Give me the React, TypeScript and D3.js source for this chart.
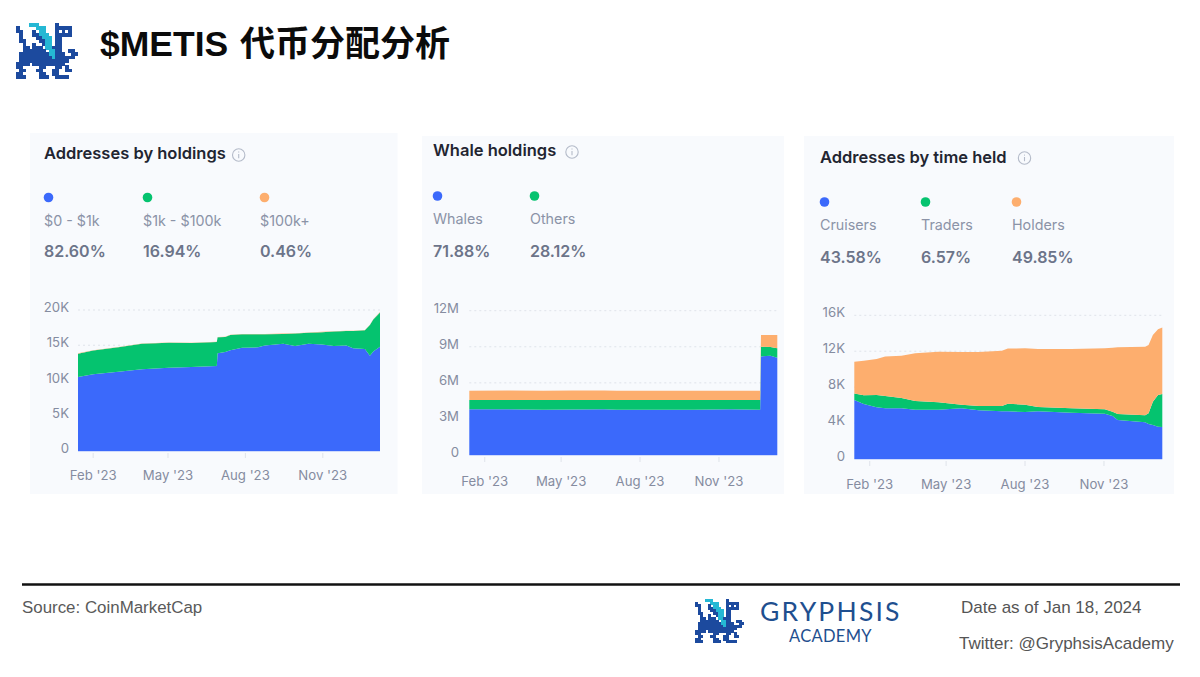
import * as d3 from 'd3';

const BLUE = '#3b69fb';
const GREEN = '#05c36f';
const ORANGE = '#fdae6e';

const DOMAIN = ['2023-01-14', '2024-01-08'];
const MONTH_TICKS = ['2023-02-01', '2023-05-01', '2023-08-01', '2023-11-01'];

// Addresses by holdings
const holdingDates = ['2023-01-14', '2023-02-01', '2023-03-03', '2023-03-31', '2023-05-02', '2023-05-29', '2023-06-28', '2023-06-29', '2023-07-08', '2023-07-14', '2023-07-28', '2023-08-16', '2023-08-24', '2023-09-15', '2023-09-29', '2023-10-15', '2023-10-31', '2023-11-14', '2023-11-29', '2023-12-07', '2023-12-21', '2023-12-27', '2023-12-31', '2024-01-08'];
const holdingLow = [10500, 10870, 11250, 11580, 11800, 11900, 12050, 13850, 14050, 14300, 14650, 14700, 14950, 15200, 14900, 15200, 15100, 14900, 14950, 14560, 14470, 13500, 14100, 14800];
const holdingMid = [3310, 3390, 3460, 3630, 3560, 3410, 3410, 2280, 2110, 2160, 1910, 1860, 1610, 1410, 1760, 1560, 1760, 2060, 2060, 2450, 2640, 4360, 4560, 4860];
const holdingHigh = [40, 40, 40, 40, 40, 40, 40, 40, 40, 40, 40, 40, 40, 40, 40, 40, 40, 40, 40, 40, 40, 40, 40, 40];

// Whale holdings
const whaleDates = ['2023-01-14', '2023-03-01', '2023-04-10', '2023-05-15', '2023-06-20', '2023-07-05', '2023-08-15', '2023-10-01', '2023-11-15', '2023-12-19', '2023-12-20', '2023-12-31', '2024-01-08'];
const whaleBlue = [3800000, 3800000, 3770000, 3790000, 3810000, 3760000, 3770000, 3770000, 3810000, 3770000, 8200000, 8260000, 8090000];
const whaleGreen = [770000, 780000, 800000, 790000, 770000, 810000, 800000, 800000, 760000, 800000, 800000, 730000, 780000];
const whaleOrange = [780000, 780000, 780000, 780000, 780000, 780000, 780000, 780000, 780000, 780000, 980000, 990000, 1110000];

// Addresses by time held
const heldDates = ['2023-01-14', '2023-01-25', '2023-02-09', '2023-02-19', '2023-03-10', '2023-03-26', '2023-04-22', '2023-05-19', '2023-06-08', '2023-07-05', '2023-07-12', '2023-08-01', '2023-08-16', '2023-09-24', '2023-11-02', '2023-11-11', '2023-11-17', '2023-12-19', '2023-12-23', '2023-12-28', '2024-01-03', '2024-01-08'];
const heldCruisers = [6570, 6120, 5750, 5640, 5640, 5490, 5490, 5640, 5420, 5310, 5310, 5230, 5310, 5160, 5050, 4790, 4340, 4080, 3900, 3790, 3600, 3560];
const heldTraders = [710, 970, 1380, 1380, 1150, 970, 820, 410, 480, 590, 850, 820, 480, 480, 480, 480, 670, 780, 1190, 2590, 3530, 3680];
const heldHolders = [3560, 3860, 4010, 4380, 4710, 5310, 5640, 5850, 6000, 6160, 6130, 6270, 6460, 6610, 6790, 7130, 7430, 7650, 7610, 7420, 7310, 7390];

const LOGO_ROWS = [
  '....ttt.....B......',
  'B.....ttt...BBBBB..',
  'BB...B.tt...B.B.B..',
  '.B...BBttt..BBBBB..',
  '.B....BBttt.BB.....',
  '.BB....BBtt.BB.....',
  '..B..B..Btt.BB.....',
  '..BB.BBB.ttBBB.....',
  '..BBBBBBB.ttBB..BB.',
  '.BBBBBBBBBttBBB..BB',
  '.BBBBBBBBBBtBBBBBB.',
  '.BBBBBBBBBBBBBBB...',
  'BBBB.BBBBBBBBBB....',
  'BB.....BB...BB.B...',
  '.BB...BB...BB..BB..',
  'BB.....BB..BB......',
  'BBB....BBB..BBBB...',
];

const UI_FONT = 'Inter, "Noto Sans", sans-serif';
const SLIDE_FONT = '"Liberation Sans", "Noto Sans CJK SC", sans-serif';
const parse = d3.utcParse('%Y-%m-%d');
const fmtMonth = d3.utcFormat("%b '%y");

type PanelProps = {
  box: [number, number, number, number];
  title: string;
  titlePos: [number, number];
  iconPos: [number, number];
  legendY: [number, number, number];
  legendX: number[];
  legend: { label: string; pct: string; color: string }[];
  dates: string[];
  series: number[][];
  colors: string[];
  yTicks: number[];
  yFmt: (v: number) => string;
  plot: { x0: number; x1: number; y0: number; yTop: number; labelRight: number; xLabelY: number };
};

const Panel = ({ box, title, titlePos, iconPos, legendY, legendX, legend, dates, series, colors, yTicks, yFmt, plot }: PanelProps) => {
  const x = d3.scaleUtc().domain(DOMAIN.map((d) => parse(d)!)).range([plot.x0, plot.x1]);
  const y = d3.scaleLinear().domain([0, d3.max(yTicks)!]).range([plot.y0, plot.yTop]);

  const table = dates.map((d, i) => {
    const row: Record<string, number> = { date: +parse(d)! };
    series.forEach((s, k) => (row['s' + k] = s[i]));
    return row;
  });
  const stacked = d3.stack<Record<string, number>>().keys(series.map((_, k) => 's' + k))(table);
  const area = d3
    .area<d3.SeriesPoint<Record<string, number>>>()
    .x((d) => x(d.data.date))
    .y0((d) => y(d[0]))
    .y1((d) => y(d[1]));

  return (
    <g>
      <rect x={box[0]} y={box[1]} width={box[2] - box[0]} height={box[3] - box[1]} fill="#f8fafd" />
      <text x={titlePos[0]} y={titlePos[1]} fontFamily={UI_FONT} fontWeight={600} fontSize={16.5} fill="#222531">
        {title}
      </text>
      <g transform={`translate(${iconPos[0]},${iconPos[1]})`} stroke="#b4bbc9" fill="none" strokeWidth={1.1}>
        <circle r={6.2} />
        <line x1={0} x2={0} y1={-1} y2={3.2} />
        <line x1={0} x2={0} y1={-3.4} y2={-2.4} />
      </g>
      {legend.map((l, i) => (
        <g key={l.label}>
          <circle cx={legendX[i] + 4.5} cy={legendY[0]} r={4.8} fill={l.color} />
          <text x={legendX[i]} y={legendY[1]} fontFamily={UI_FONT} fontSize={14.3} fill="#8b93a7">
            {l.label}
          </text>
          <text x={legendX[i]} y={legendY[2]} fontFamily={UI_FONT} fontWeight={600} fontSize={16} fill="#6c7489">
            {l.pct}
          </text>
        </g>
      ))}
      {yTicks.map((t) => (
        <g key={t}>
          {t > 0 && (
            <line x1={plot.x0} x2={plot.x1 + 1} y1={y(t)} y2={y(t)} stroke="#dfe3ea" strokeWidth={1} strokeDasharray="2 3" />
          )}
          <text x={plot.labelRight} y={y(t) + 2} textAnchor="end" fontFamily={UI_FONT} fontSize={13.2} fill="#858ca0">
            {yFmt(t)}
          </text>
        </g>
      ))}
      {stacked.map((s, k) => (
        <path key={k} d={area(s)!} fill={colors[k]} />
      ))}
      <line x1={plot.x0} x2={plot.x1} y1={plot.y0 + 0.5} y2={plot.y0 + 0.5} stroke="#cfdafc" />
      {MONTH_TICKS.map((m) => {
        const d = parse(m)!;
        return (
          <g key={m}>
            <line x1={x(d)} x2={x(d)} y1={plot.y0 + 2} y2={plot.y0 + 7} stroke="#dfe3ea" />
            <text x={x(d)} y={plot.xLabelY} textAnchor="middle" fontFamily={UI_FONT} fontSize={13.2} fill="#858ca0">
              {fmtMonth(d)}
            </text>
          </g>
        );
      })}
    </g>
  );
};

const Logo = ({ x, y, cell }: { x: number; y: number; cell: number }) => (
  <g transform={`translate(${x},${y})`} shapeRendering="crispEdges">
    {LOGO_ROWS.flatMap((row, r) =>
      row.split('').map((c, i) =>
        c === '.' ? null : (
          <rect key={r + '-' + i} x={i * cell} y={r * cell} width={cell + 0.5} height={cell + 0.5} fill={c === 't' ? '#25b8d4' : '#1c4a9e'} />
        ),
      ),
    )}
  </g>
);

const fmtK = (v: number) => (v === 0 ? '0' : v / 1000 + 'K');
const fmtM = (v: number) => (v === 0 ? '0' : v / 1000000 + 'M');

export default function App() {
  return (
    <svg width={1200} height={677} style={{ position: 'absolute', left: 0, top: 0, background: '#fff' }}>
      <Logo x={16} y={23} cell={3.25} />
      <text x={100} y={56} fontFamily={SLIDE_FONT} fontWeight={700} fontSize={35.5} fill="#0b0b0b">
        $METIS <tspan x={240} fontSize={35}>代币分配分析</tspan>
      </text>

      <Panel
        box={[30, 133, 397.5, 494]}
        title="Addresses by holdings"
        titlePos={[44, 159]}
        iconPos={[238.7, 155]}
        legendY={[197.5, 226, 257]}
        legendX={[44, 143, 260]}
        legend={[
          { label: '$0 - $1k', pct: '82.60%', color: BLUE },
          { label: '$1k - $100k', pct: '16.94%', color: GREEN },
          { label: '$100k+', pct: '0.46%', color: ORANGE },
        ]}
        dates={holdingDates}
        series={[holdingLow, holdingMid, holdingHigh]}
        colors={[BLUE, GREEN, ORANGE]}
        yTicks={[0, 5000, 10000, 15000, 20000]}
        yFmt={fmtK}
        plot={{ x0: 78, x1: 380, y0: 451, yTop: 310, labelRight: 69, xLabelY: 480 }}
      />
      <Panel
        box={[422, 136, 784, 494]}
        title="Whale holdings"
        titlePos={[433, 156]}
        iconPos={[572, 152]}
        legendY={[196, 224, 257]}
        legendX={[433, 530]}
        legend={[
          { label: 'Whales', pct: '71.88%', color: BLUE },
          { label: 'Others', pct: '28.12%', color: GREEN },
        ]}
        dates={whaleDates}
        series={[whaleBlue, whaleGreen, whaleOrange]}
        colors={[BLUE, GREEN, ORANGE]}
        yTicks={[0, 3000000, 6000000, 9000000, 12000000]}
        yFmt={fmtM}
        plot={{ x0: 469.3, x1: 777.3, y0: 455, yTop: 310.7, labelRight: 459, xLabelY: 486 }}
      />
      <Panel
        box={[804, 136, 1174, 494]}
        title="Addresses by time held"
        titlePos={[820, 163]}
        iconPos={[1024.5, 158]}
        legendY={[202, 230, 263]}
        legendX={[820, 921, 1012]}
        legend={[
          { label: 'Cruisers', pct: '43.58%', color: BLUE },
          { label: 'Traders', pct: '6.57%', color: GREEN },
          { label: 'Holders', pct: '49.85%', color: ORANGE },
        ]}
        dates={heldDates}
        series={[heldCruisers, heldTraders, heldHolders]}
        colors={[BLUE, GREEN, ORANGE]}
        yTicks={[0, 4000, 8000, 12000, 16000]}
        yFmt={fmtK}
        plot={{ x0: 854.3, x1: 1162.3, y0: 459, yTop: 315.3, labelRight: 845, xLabelY: 489 }}
      />

      <line x1={22} x2={1180} y1={584.5} y2={584.5} stroke="#111" strokeWidth={2.4} />
      <text x={22} y={613} fontFamily={SLIDE_FONT} fontSize={16.9} fill="#5a5a5a">
        Source: CoinMarketCap
      </text>
      <Logo x={695} y={599} cell={2.57} />
      <text x={760} y={621} fontFamily="Lato, sans-serif" fontSize={26.5} letterSpacing={2.2} fill="#1f4f8f">
        GRYPHSIS
      </text>
      <text x={830.5} y={642} textAnchor="middle" fontFamily="Lato, sans-serif" fontSize={16.5} letterSpacing={0.3} fill="#1f4f8f">
        ACADEMY
      </text>
      <text x={961} y={613} fontFamily={SLIDE_FONT} fontSize={17} fill="#555">
        Date as of Jan 18, 2024
      </text>
      <text x={959} y={649} fontFamily={SLIDE_FONT} fontSize={17} fill="#555">
        Twitter: @GryphsisAcademy
      </text>
    </svg>
  );
}
